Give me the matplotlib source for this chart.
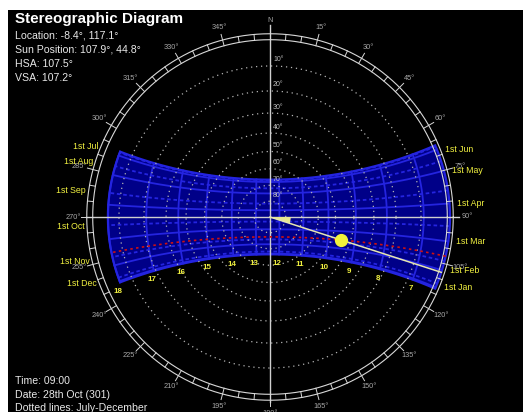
import numpy as np
import matplotlib
matplotlib.use("Agg")
import matplotlib.pyplot as plt
from matplotlib.patches import Rectangle, Polygon, Wedge

plt.rcParams['font.family'] = ['Liberation Sans', 'DejaVu Sans']

# ---- chart data -------------------------------------------------------
title = "Stereographic Diagram"
location = (-8.4, 117.1)            # latitude, longitude shown in the header
sun_position = (107.9, 44.8)        # azimuth, altitude of the current sun
hsa = 107.5
vsa = 107.2
time_text = "09:00"
date_text = "28th Oct (301)"

month_labels = ["1st Jan", "1st Feb", "1st Mar", "1st Apr", "1st May", "1st Jun",
                "1st Jul", "1st Aug", "1st Sep", "1st Oct", "1st Nov", "1st Dec"]
month_decl = [-23.0, -17.2, -7.8, 4.3, 14.9, 22.0,
              23.1, 18.1, 8.5, -2.9, -14.2, -21.7]
hours = [7, 8, 9, 10, 11, 12, 13, 14, 15, 16, 17, 18]
altitude_rings = [10, 20, 30, 40, 50, 60, 70, 80]
azimuth_labels = list(range(0, 360, 15))

grid_lat = 0.0          # latitude used to lay out the sun-path grid
clock_shift = -6.0      # degrees of hour angle between clock and solar time
first_hour, last_hour = 6, 18
solstice = 23.44

# ---- geometry helpers -------------------------------------------------
W, H = 523, 412
CX, CY, R = 270.0, 217.0, 180.0


def project(alt, az):
    r = np.tan(np.radians(90.0 - np.asarray(alt)) / 2.0)
    a = np.radians(az)
    return r * np.sin(a), r * np.cos(a)


def altaz(ha, dec, lat=grid_lat):
    h, d, l = np.radians(ha), np.radians(dec), np.radians(lat)
    s = np.sin(l) * np.sin(d) + np.cos(l) * np.cos(d) * np.cos(h)
    alt = np.degrees(np.arcsin(np.clip(s, -1, 1)))
    az = np.degrees(np.arctan2(-np.cos(d) * np.sin(h),
                               np.sin(d) * np.cos(l) - np.cos(d) * np.cos(h) * np.sin(l)))
    return alt, az % 360


def rise_ha(dec, lat=grid_lat):
    v = -np.tan(np.radians(lat)) * np.tan(np.radians(dec))
    return np.degrees(np.arccos(np.clip(v, -1, 1)))


def hour_angle(hr):
    return 15.0 * (hr - 12) + clock_shift


def day_curve(dec, n=240):
    h0 = max(hour_angle(first_hour), -rise_ha(dec))
    h1 = min(hour_angle(last_hour), rise_ha(dec))
    ha = np.linspace(h0, h1, n)
    alt, az = altaz(ha, dec)
    alt = np.maximum(alt, 0.0)
    return project(alt, az)


def fig_xy(px, py):
    return px / W, 1 - py / H


fig = plt.figure(figsize=(W / 100, H / 100), dpi=100, facecolor='white')
ax = fig.add_axes([0, 0, 1, 1])
ax.set_xlim(-CX / R, (W - CX) / R)
ax.set_ylim((CY - H) / R, CY / R)
ax.axis('off')
ax.add_patch(Rectangle(((8 - CX) / R, (CY - H) / R), (W - 8) / R, (H - 10) / R,
                       facecolor='black', edgecolor='none', zorder=0))

# ---- sun-path band ----------------------------------------------------
blue = '#2424e0'
top_x, top_y = day_curve(solstice)
bot_x, bot_y = day_curve(-solstice)
decs = np.linspace(solstice, -solstice, 80)
end_alt, end_az = altaz(np.full_like(decs, hour_angle(last_hour)), decs)
end_x, end_y = project(end_alt, end_az)
st_alt, st_az = altaz(np.array([max(hour_angle(first_hour), -rise_ha(d)) for d in decs[::-1]]), decs[::-1])
st_x, st_y = project(np.maximum(st_alt, 0), st_az)
band = np.concatenate([np.column_stack([top_x, top_y]),
                       np.column_stack([end_x, end_y]),
                       np.column_stack([bot_x[::-1], bot_y[::-1]]),
                       np.column_stack([st_x, st_y])])
ax.add_patch(Polygon(band, closed=True, facecolor='#000088', edgecolor=blue,
                     lw=1.6, zorder=1))

for i, (lab, dec) in enumerate(zip(month_labels, month_decl)):
    x, y = day_curve(dec)
    ls = '-' if i < 6 else (0, (2, 1.5))
    ax.plot(x, y, color=blue, lw=1.3, ls=ls, zorder=2)
    if i < 6:
        rx, ry = project(0.0, altaz(-rise_ha(dec), dec)[1])
        ax.text(rx + 8 / R, ry, lab, color='#f0f040', fontsize=6.3,
                ha='left', va='center', zorder=6)
    else:
        sx_, sy_ = project(0.0, altaz(rise_ha(dec), dec)[1])
        ax.text(sx_ - 6 / R, sy_, lab, color='#f0f040', fontsize=6.3,
                ha='right', va='center', zorder=6)

for hr in hours:
    dd = np.linspace(-solstice, solstice, 120)
    alt, az = altaz(np.full_like(dd, hour_angle(hr)), dd)
    keep = alt >= 0
    x, y = project(alt[keep], az[keep])
    ax.plot(x, y, color=blue, lw=1.3, zorder=2)
    ax.text(x[0] - 2 / R, y[0] - 9 / R, str(hr), color='#f0f040', fontsize=5.8,
            fontweight='bold', ha='center', va='center', zorder=6)

# ---- altitude rings ---------------------------------------------------
t = np.linspace(0, 2 * np.pi, 720)
for alt in altitude_rings:
    r = np.tan(np.radians(90 - alt) / 2)
    ax.plot(r * np.cos(t), r * np.sin(t), color='#b4b4b4', lw=0.9,
            ls=(0, (1, 3)), zorder=3)
    ax.text(3 / R, r + 6 / R, f"{alt}°", color='#bdbdbd', fontsize=5,
            ha='left', va='center', zorder=3)

# ---- horizon ring, ticks and compass labels ---------------------------
ring = '#d8d8d8'
for rr in (0.985, 1.018):
    ax.plot(rr * np.cos(t), rr * np.sin(t), color=ring, lw=0.8, zorder=4)
for a in range(0, 360, 5):
    s, c = np.sin(np.radians(a)), np.cos(np.radians(a))
    r1 = 1.05 if a % 15 == 0 else 1.018
    ax.plot([0.985 * s, r1 * s], [0.985 * c, r1 * c], color=ring, lw=0.7, zorder=4)
for a in azimuth_labels:
    s, c = np.sin(np.radians(a)), np.cos(np.radians(a))
    lab = "N" if a == 0 else f"{a}°"
    ax.text(1.095 * s, 1.09 * c, lab, color='#a8a8a8', fontsize=5.3,
            ha='center', va='center', zorder=4)

ax.plot([0, 0], [-1.03, 1.065], color='#cfcfcf', lw=1.0, zorder=3)
ax.plot([-1.02, 1.05], [0, 0], color='#cfcfcf', lw=1.0, zorder=3)

# ---- today's path and sun --------------------------------------------
s_az, s_alt = sun_position
today_dec = np.degrees(np.arcsin(
    np.sin(np.radians(grid_lat)) * np.sin(np.radians(s_alt)) +
    np.cos(np.radians(grid_lat)) * np.cos(np.radians(s_alt)) * np.cos(np.radians(s_az))))
x, y = day_curve(today_dec)
ax.plot(x, y, color='#d01010', lw=1.2, ls=(0, (1.5, 2)), zorder=5)

ax.add_patch(Wedge((0, 0), 0.115, 90 - s_az, 0, facecolor='#e8e890',
                   edgecolor='none', zorder=6))
ex, ey = project(0.0, s_az)
ax.plot([0, ex], [0, ey], color='#e6e6b0', lw=1.1, zorder=6)
sx, sy = project(s_alt, s_az)
ax.plot([sx], [sy], 'o', color='#f2f23a', markersize=8.5, zorder=7)

# ---- header and footer text ------------------------------------------
fig.text(*fig_xy(15, 19), title, color='white', fontsize=11, fontweight='bold',
         ha='left', va='center')
info = [f"Location: {location[0]}°, {location[1]}°",
        f"Sun Position: {sun_position[0]}°, {sun_position[1]}°",
        f"HSA: {hsa}°",
        f"VSA: {vsa}°"]
for i, line in enumerate(info):
    fig.text(*fig_xy(15, 35 + 14.3 * i), line, color='#e8e8e8', fontsize=7.6,
             ha='left', va='center')
foot = [f"Time: {time_text}", f"Date: {date_text}", "Dotted lines: July-December"]
for i, line in enumerate(foot):
    fig.text(*fig_xy(15, 381 + 13.5 * i), line, color='#e8e8e8', fontsize=7.6,
             ha='left', va='center')

fig.savefig("out.png", dpi=100, facecolor='white')
